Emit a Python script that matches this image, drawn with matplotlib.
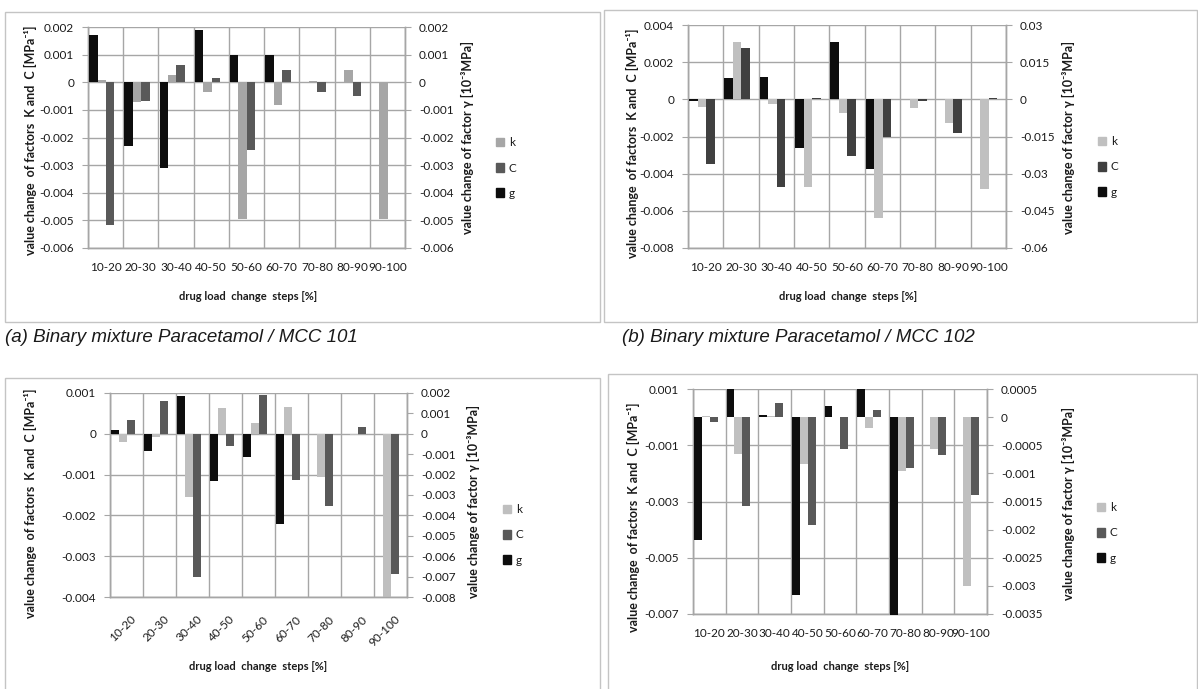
import numpy as np
import matplotlib
matplotlib.use('Agg')
import matplotlib.pyplot as plt
from matplotlib.patches import Patch, Rectangle

plt.rcParams['font.family'] = ['Lato', 'DejaVu Sans']

steps = ['10-20', '20-30', '30-40', '40-50', '50-60', '60-70', '70-80', '80-90', '90-100']

# (a) Paracetamol / MCC 101
k_a = [0.00007, -0.00072, 0.00027, -0.00034, -0.00495, -0.00083, 0.00003, 0.00043, -0.00495]
C_a = [-0.00518, -0.00069, 0.00063, 0.00016, -0.00247, 0.00043, -0.00034, -0.00048, 0.0]
g_a = [0.00171, -0.00231, -0.0031, 0.00188, 0.0010, 0.00098, 0.0, 0.0, 0.0]

# (b) Paracetamol / MCC 102
k_b = [-0.00043, 0.00308, -0.00025, -0.00474, -0.00074, -0.0064, -0.00045, -0.00128, -0.0048]
C_b = [-0.0035, 0.00276, -0.00474, 0.00007, -0.00304, -0.0020, -0.0001, -0.0018, 0.00007]
g_b = [-0.0005, 0.0086, 0.0092, -0.0197, 0.023, -0.0282, 0.0, 0.0, 0.0]

# (c)
k_c = [-0.00019, -0.00009, -0.00156, 0.00064, 0.00027, 0.00065, -0.00105, -0.00002, -0.00403]
C_c = [0.00035, 0.0008, -0.0035, -0.00029, 0.00095, -0.00113, -0.00177, 0.00017, -0.00344]
g_c = [0.0002, -0.00083, 0.00187, -0.00233, -0.00114, -0.00442, 0.0, 0.0, 0.0]

# (d)
k_d = [0.00004, -0.0013, 0.00005, -0.00166, 0.0, -0.00038, -0.0019, -0.00113, -0.00602]
C_d = [-0.00019, -0.00315, 0.00051, -0.00385, -0.00113, 0.00025, -0.0018, -0.00136, -0.00278]
g_d = [-0.00219, 0.0005, 0.000036, -0.00316, 0.0002, 0.0005, -0.00352, 0.0, 0.0]

W, H = 1198, 689
fig = plt.figure(figsize=(W / 100, H / 100), dpi=100)
fig.patch.set_facecolor('white')

GRID = '#a6a6a6'
TXT = '#1a1a1a'


def fx(x):
    return x / W


def fy(y):
    return 1 - y / H


def fmt(v):
    return '0' if abs(v) < 1e-12 else f'{v:g}'


def panel(px, k, C, g, lticks, rticks, kcol, ccol, labels, rot=False):
    x0, y0, x1, y1 = px
    ax = fig.add_axes([fx(x0), fy(y1), fx(x1 - x0), (y1 - y0) / H])
    x = np.arange(len(steps))
    ax.bar(x + 0.27, k, 0.24, align='edge', color=kcol, zorder=3, clip_on=False)
    ax.bar(x + 0.51, C, 0.24, align='edge', color=ccol, zorder=3, clip_on=False)
    ax.set_xlim(0, len(steps))
    ax.set_ylim(lticks[-1], lticks[0])
    ax.set_yticks(lticks)
    ax.set_yticklabels([fmt(v) for v in lticks])
    if rot:
        ax.set_xticks(x + 0.62)
        ax.set_xticklabels(steps, rotation=45, ha='right', rotation_mode='anchor')
        ax.tick_params(axis='x', length=0, pad=12, labelsize=8.5, labelcolor=TXT)
    else:
        ax.set_xticks(x + 0.5)
        ax.set_xticklabels(steps)
        ax.tick_params(axis='x', length=0, pad=10, labelsize=8.5, labelcolor=TXT)
    ax.set_xticks(np.arange(len(steps) + 1), minor=True)
    ax.tick_params(axis='x', which='minor', length=0)
    ax.grid(axis='y', which='major', color=GRID, lw=1, zorder=0)
    ax.grid(axis='x', which='minor', color=GRID, lw=1, zorder=0)
    ax.set_axisbelow(True)
    ax.tick_params(axis='y', length=4, color=GRID, pad=6, labelsize=8.5, labelcolor=TXT)

    ax2 = ax.twinx()
    ax2.bar(x + 0.03, g, 0.24, align='edge', color='#0d0d0d', zorder=3, clip_on=False)
    ax2.set_ylim(rticks[-1], rticks[0])
    ax2.set_yticks(rticks)
    ax2.set_yticklabels([fmt(v) for v in rticks])
    ax2.tick_params(axis='y', length=4, color=GRID, pad=6, labelsize=8.5, labelcolor=TXT)
    for a in (ax, ax2):
        for s in a.spines.values():
            s.set_color(GRID)
            s.set_linewidth(1)
        a.spines['top'].set_visible(False)

    (lx, ly), (rx, ry), (xx, xy), (gx, gy) = labels
    fig.text(fx(lx), fy(ly), 'value change  of factors  K and  C [MPa⁻¹]', rotation=90,
             ha='center', va='center', fontsize=9, fontweight='bold', color=TXT)
    fig.text(fx(rx), fy(ry), 'value change of factor γ [10⁻³MPa]', rotation=90,
             ha='center', va='center', fontsize=9, fontweight='bold', color=TXT)
    fig.text(fx(xx), fy(xy), 'drug load  change  steps [%]', ha='center', va='center',
             fontsize=8, fontweight='bold', color=TXT)
    handles = [Patch(color=kcol), Patch(color=ccol), Patch(color='#0d0d0d')]
    fig.legend(handles, ['k', 'C', 'g'], loc='center left', bbox_to_anchor=(fx(gx), fy(gy)),
               frameon=False, fontsize=8.5, handlelength=0.7, handleheight=0.7,
               handletextpad=0.4, labelspacing=1.2, borderpad=0, borderaxespad=0,
               labelcolor=TXT)
    return ax


panel((88, 27, 405, 248), k_a, C_a, g_a,
      np.linspace(0.002, -0.006, 9), np.linspace(0.002, -0.006, 9),
      '#a6a6a6', '#595959',
      [(30, 140), (467, 137), (248, 297), (496, 168)])

panel((688, 25, 1006, 248), k_b, C_b, g_b,
      np.linspace(0.004, -0.008, 7), np.linspace(0.03, -0.06, 7),
      '#c0c0c0', '#404040',
      [(632, 143), (1068, 137), (848, 297), (1098, 167)])

panel((110, 393, 407, 597), k_c, C_c, g_c,
      np.linspace(0.001, -0.004, 6), np.linspace(0.002, -0.008, 11),
      '#bfbfbf', '#595959',
      [(30, 503), (473, 502), (258, 666), (503, 535)], rot=True)

panel((693, 389, 987, 614), k_d, C_d, g_d,
      np.linspace(0.001, -0.007, 5), np.linspace(0.0005, -0.0035, 9),
      '#c0c0c0', '#595959',
      [(633, 517), (1068, 503), (840, 666), (1097, 533)])

# panel frames
for (a, b, c, d) in [(5, 12, 600, 322), (604, 10, 1197, 322), (5, 378, 600, 700), (608, 374, 1197, 700)]:
    fig.add_artist(Rectangle((fx(a), fy(d)), fx(c - a), (d - b) / H, transform=fig.transFigure,
                             fill=False, ec='#c4c4c4', lw=1))

fig.text(fx(5), fy(338), '(a) Binary mixture Paracetamol / MCC 101', style='italic',
         family='Liberation Sans', fontsize=13.5, va='center', color=TXT)
fig.text(fx(622), fy(338), '(b) Binary mixture Paracetamol / MCC 102', style='italic',
         family='Liberation Sans', fontsize=13.5, va='center', color=TXT)

fig.savefig('out.png', dpi=100)
